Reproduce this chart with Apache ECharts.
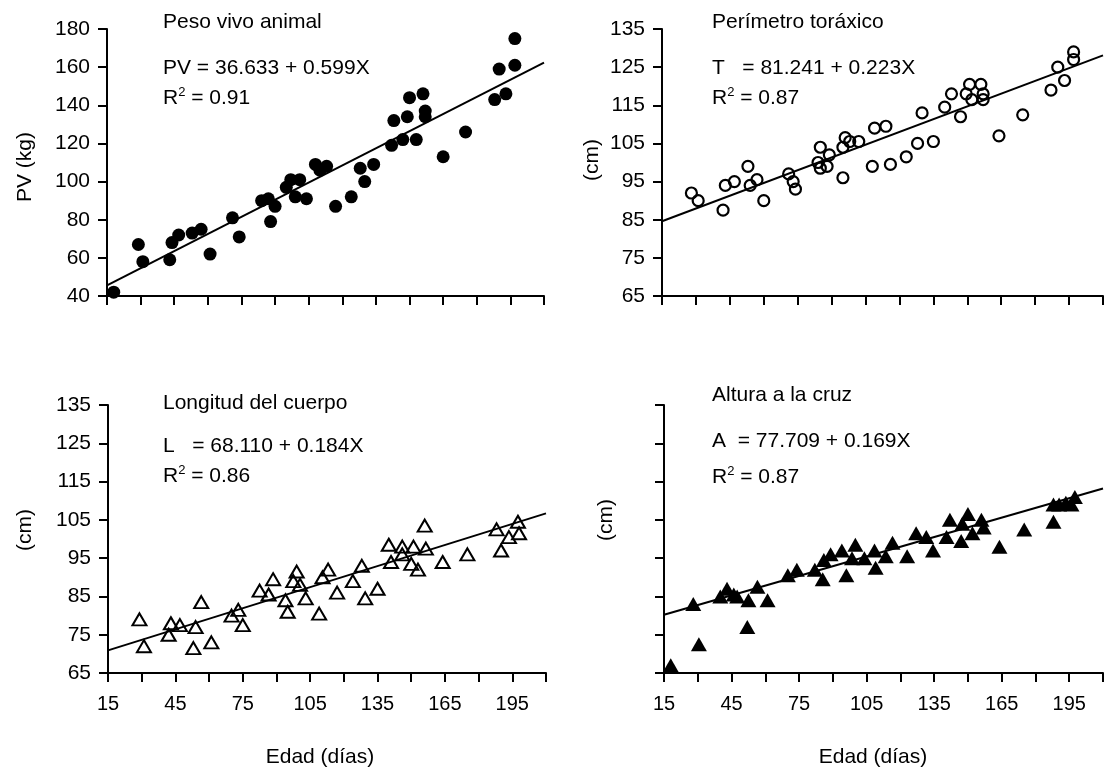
<!DOCTYPE html>
<html>
<head>
<meta charset="utf-8">
<script src="https://cdn.jsdelivr.net/npm/echarts@6/dist/echarts.min.js"></script>
<style>
html,body{margin:0;padding:0;background:#fff;}
#chart{width:1105px;height:770px;}
</style>
</head>
<body>
<div id="chart"></div>
<script>
// ---- Data ----
// Peso vivo animal (top-left)
const ageA = [18,29,31,43,44,47,53,57,61,71,74,84,87,88,90,95,97,99,101,104,108,110,113,117,124,128,130,134,142,143,147,149,150,153,156,157,157,165,175,188,190,193,197,197];
const pesoVivo = [42,67,58,59,68,72,73,75,62,81,71,90,91,79,87,97,101,92,101,91,109,106,108,87,92,107,100,109,119,132,122,134,144,122,146,137,134,113,126,143,159,146,161,175];
// Perímetro toráxico (top-right)
const ageB = [28,31,42,43,47,53,54,57,60,71,73,74,84,85,85,88,89,95,95,96,98,102,108,109,114,116,123,128,130,135,140,143,147,149.5,151,152,156,157,157,164,174.5,187,190,193,197,197];
const perimetro = [92,90,87.5,94,95,99,94,95.5,90,97,95,93,100,98.5,104,99,102,96,104,106.5,105.5,105.5,99,109,109.5,99.5,101.5,105,113,105.5,114.5,118,112,118,120.5,116.5,120.5,118,116.5,107,112.5,119,125,121.5,127,129];
// Longitud del cuerpo (bottom-left)
const ageC = [18,29,31,42,43,47,53,54,56.5,61,70,73,75,82.5,86.5,88.5,94,95,97.5,99,100.5,103,109,110.5,113,117,124,128,129.5,135,140,141,146,146,150,151,153,156,156.5,164,175,188,190,193.5,197.5,198];
const longitud = [64.5,79,72,75,78,77.5,71.5,77,83.5,73,80,81.5,77.5,86.5,85.5,89.5,84,81,89,91.5,88,84.5,80.5,90,92,86,89,93,84.5,87,98.5,94,96,98,93.5,98,92,103.5,97.5,94,96,102.5,97,100.5,104.5,101.5];
// Altura a la cruz (bottom-right)
const ageD = [18,28,30.5,40,43,46,47.5,52.5,52,56.5,61,70,74,82,85.5,86,89,94,96,98.5,100,104,108.5,109,113.5,116.5,123,127,131.5,134.5,140.5,142,147,147.5,150,152,156,157,164,175,188,188,190.5,193.5,196,197.5];
const altura = [67,83,72.5,85,87,85.5,85,84,77,87.5,84,90.5,92,92,89.5,94.5,96,97,90.5,95,98.5,95,97,92.5,95.5,99,95.5,101.5,100.5,97,100.5,105,99.5,104,106.5,101.5,105,103,98,102.5,104.5,109,109,109.5,109,111];
// Regression line end points (x = 15 and x = 210)
const lineA = [[15, 45.6], [210, 162.4]];
const lineB = [[15, 84.6], [210, 128.1]];
const lineC = [[15, 70.9], [210, 106.7]];
const lineD = [[15, 80.2], [210, 113.2]];
// Tick / label values
const xTickLabels = [15, 45, 75, 105, 135, 165, 195];
const yTicksA = [40, 60, 80, 100, 120, 140, 160, 180];
const yTicksCm = [65, 75, 85, 95, 105, 115, 125, 135];
// Texts
const titles = ['Peso vivo animal', 'Perímetro toráxico', 'Longitud del cuerpo', 'Altura a la cruz'];
const equations = ['PV = 36.633 + 0.599X', 'T   = 81.241 + 0.223X', 'L   = 68.110 + 0.184X', 'A  = 77.709 + 0.169X'];
const r2Values = ['0.91', '0.87', '0.86', '0.87'];
const yNames = ['PV (kg)', '(cm)', '(cm)', '(cm)'];
const xName = 'Edad (días)';

// ---- Chart ----
const FONT = '"Liberation Sans", Arial, Helvetica, sans-serif';
const BLACK = '#000';
const FS = 21;
const chart = echarts.init(document.getElementById('chart'));

const grids = [
  {left: 107, top: 29, width: 437, height: 267},
  {left: 662, top: 29, width: 441, height: 267},
  {left: 108, top: 405, width: 438, height: 268},
  {left: 664, top: 405, width: 439, height: 268}
];

function xAxis(i, showLabels) {
  return {
    type: 'value', gridIndex: i, min: 15, max: 210, interval: 15,
    axisLine: {lineStyle: {color: BLACK, width: 2}},
    axisTick: {length: 9, lineStyle: {color: BLACK, width: 2}},
    axisLabel: {show: showLabels, customValues: xTickLabels, margin: 21,
      fontSize: 20, color: BLACK, fontFamily: FONT},
    splitLine: {show: false}
  };
}
function yAxis(i, min, max, ticks, showLabels) {
  return {
    type: 'value', gridIndex: i, min: min, max: max,
    axisLine: {show: true, lineStyle: {color: BLACK, width: 2}},
    axisTick: {show: true, length: 9, customValues: ticks, lineStyle: {color: BLACK, width: 2}},
    axisLabel: {show: showLabels, customValues: ticks, margin: 17,
      fontSize: FS, color: BLACK, fontFamily: FONT},
    splitLine: {show: false}
  };
}
function pts(xs, ys) { return xs.map((x, k) => [x, ys[k]]); }

const textPos = [
  {x: 163, y: [22, 68, 98]},
  {x: 712, y: [22, 68, 98]},
  {x: 163, y: [403, 446, 476]},
  {x: 712, y: [395, 441, 477]}
];
const graphics = [];
const baseTok = {fontSize: FS, fontFamily: FONT, fill: BLACK};
textPos.forEach((p, i) => {
  graphics.push({type: 'text', x: p.x, y: p.y[0], silent: true,
    style: {text: titles[i], fill: BLACK, fontSize: FS, fontFamily: FONT, align: 'left', verticalAlign: 'middle'}});
  graphics.push({type: 'text', x: p.x, y: p.y[1], silent: true,
    style: {text: equations[i], fill: BLACK, fontSize: FS, fontFamily: FONT, align: 'left', verticalAlign: 'middle'}});
  graphics.push({type: 'text', x: p.x, y: p.y[2], silent: true,
    style: {text: '{b|R}{s|2}{b| = ' + r2Values[i] + '}', align: 'left', verticalAlign: 'middle',
      rich: {b: Object.assign({lineHeight: 24}, baseTok),
             s: {fontSize: 13, fontFamily: FONT, fill: BLACK, verticalAlign: 'top', lineHeight: 14}}}});
});
const yNamePos = [[25, 167], [592, 160], [25, 530], [606, 520]];
yNamePos.forEach((p, i) => {
  graphics.push({type: 'text', x: p[0], y: p[1], rotation: Math.PI / 2, silent: true,
    style: {text: yNames[i], fill: BLACK, fontSize: FS, fontFamily: FONT, align: 'center', verticalAlign: 'middle'}});
});
[[320, 757], [873, 757]].forEach(p => {
  graphics.push({type: 'text', x: p[0], y: p[1], silent: true,
    style: {text: xName, fill: BLACK, fontSize: FS, fontFamily: FONT, align: 'center', verticalAlign: 'middle'}});
});

function lineSeries(i, d) {
  return {type: 'line', xAxisIndex: i, yAxisIndex: i, data: d, symbol: 'none',
    lineStyle: {color: BLACK, width: 2}, z: 1, silent: true};
}

chart.setOption({
  animation: false,
  backgroundColor: '#fff',
  grid: grids,
  xAxis: [xAxis(0, false), xAxis(1, false), xAxis(2, true), xAxis(3, true)],
  yAxis: [
    yAxis(0, 40, 180, yTicksA, true),
    yAxis(1, 65, 135, yTicksCm, true),
    yAxis(2, 65, 135, yTicksCm, true),
    yAxis(3, 65, 135, yTicksCm, false)
  ],
  graphic: graphics,
  series: [
    lineSeries(0, lineA), lineSeries(1, lineB), lineSeries(2, lineC), lineSeries(3, lineD),
    {type: 'scatter', xAxisIndex: 0, yAxisIndex: 0, data: pts(ageA, pesoVivo), symbol: 'circle', symbolSize: 13,
      itemStyle: {color: BLACK, opacity: 1}, z: 3},
    {type: 'scatter', xAxisIndex: 1, yAxisIndex: 1, data: pts(ageB, perimetro), symbol: 'circle', symbolSize: 11,
      itemStyle: {color: 'rgba(255,255,255,0)', borderColor: BLACK, borderWidth: 2.2, opacity: 1}, z: 3},
    {type: 'scatter', xAxisIndex: 2, yAxisIndex: 2, data: pts(ageC, longitud), symbol: 'triangle', symbolSize: [14, 12],
      itemStyle: {color: 'rgba(255,255,255,0)', borderColor: BLACK, borderWidth: 2, opacity: 1}, z: 3},
    {type: 'scatter', xAxisIndex: 3, yAxisIndex: 3, data: pts(ageD, altura), symbol: 'triangle', symbolSize: [16, 14],
      itemStyle: {color: BLACK, opacity: 1}, z: 3}
  ]
});
</script>
</body>
</html>
